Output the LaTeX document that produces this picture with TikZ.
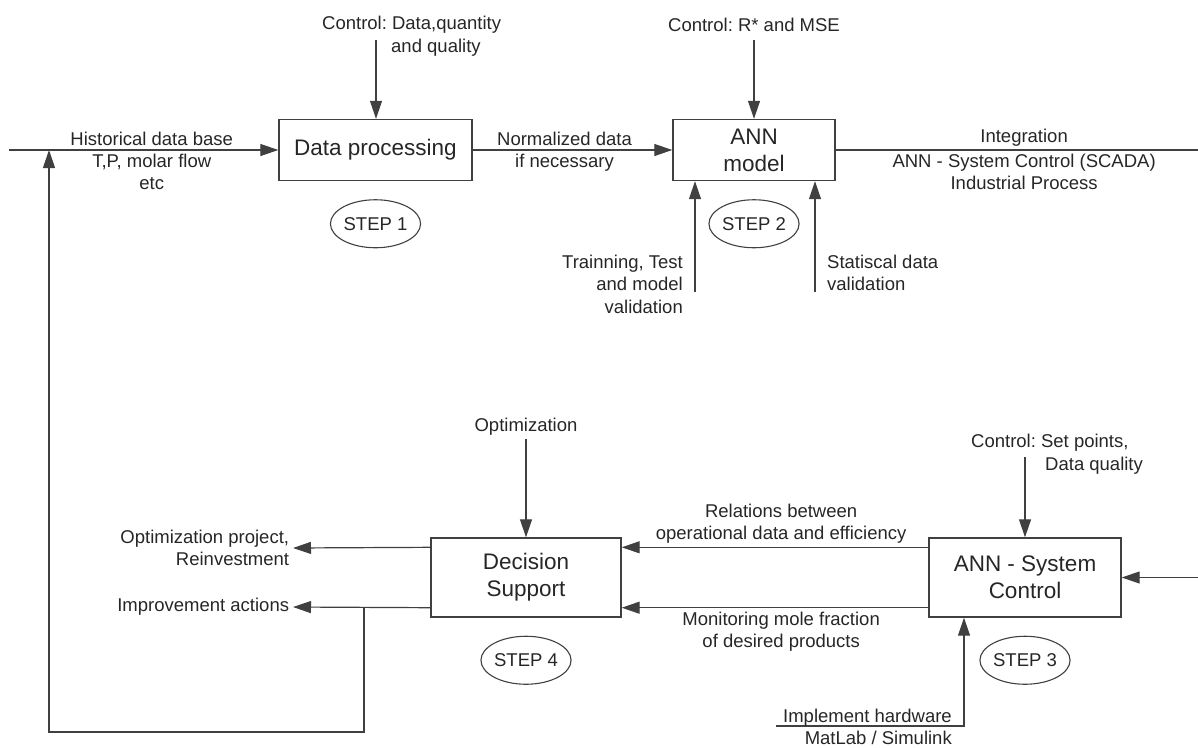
\documentclass[tikz,border=0pt]{standalone}
\usepackage{fontspec}
\setmainfont{Liberation Sans}
\usetikzlibrary{shapes.geometric, arrows.meta, positioning}
\newcommand{\lblfont}{\fontsize{18.5}{22.5}\selectfont}
\newcommand{\boxfont}{\fontsize{22.5}{27}\selectfont}
\frenchspacing

\begin{document}
\begin{tikzpicture}[x=1pt, y=1pt, >={Triangle[length=18pt, width=12pt]}, every node/.style={font=\lblfont, text=black!85}]
    \tikzset{
        block/.style={rectangle, draw=black!75, line width=1.4pt, inner sep=0pt, align=center, font=\boxfont},
        stepmark/.style={ellipse, draw=black!75, line width=1.1pt, minimum width=86pt, minimum height=48pt, inner sep=0pt},
        line/.style={draw=black!75, line width=1.2pt, ->}
    }
    \useasboundingbox (0,0) rectangle (1198,-747);

    \node (DataProc) [block, minimum width=193pt, minimum height=61pt] at (375.5,-150) {Data processing};
    \node (AnnModel) [block, minimum width=162pt, minimum height=61pt] at (754,-150) {ANN\\model};
    \node (Decision) [block, minimum width=190pt, minimum height=79pt] at (526,-577.5) {Decision\\Support};
    \node (AnnCtrl) [block, minimum width=192pt, minimum height=79pt] at (1025,-577.5) {ANN - System\\Control};

    \node (Step1) [stepmark, below=18pt of DataProc] {STEP 1};
    \node (Step2) [stepmark, below=18pt of AnnModel] {STEP 2};
    \node (Step3) [stepmark, below=18pt of AnnCtrl] {STEP 3};
    \node (Step4) [stepmark, below=18pt of Decision] {STEP 4};

    \coordinate (HistIn) at (9,-150);
    \coordinate (ScadaOut) at (1198,-150);
    \coordinate (CtrlDP) at (376,-40);
    \coordinate (CtrlAnn) at (754,-40);
    \coordinate (TrainIn) at (695,-292);
    \coordinate (StatIn) at (815,-292);
    \coordinate (OptIn) at (526,-439);
    \coordinate (CtrlSys) at (1025,-457);
    \coordinate (PlantIn) at (1198,-577.5);
    \coordinate (HwIn) at (776,-726);
    \coordinate (HwCorner) at (964,-726);
    \coordinate (OptOut) at (293,-548);
    \coordinate (ImpOut) at (293,-607);
    \coordinate (FbSplit) at (364,-607);
    \coordinate (FbLow) at (49,-732);
    \coordinate (FbUp) at (49,-150);

    % step 1 and 2
    \path [line] (HistIn) -- node [above, pos=0.53] {Historical data base} node [below, pos=0.53, align=center] {T,P, molar flow\\etc} (DataProc);
    \path [line] (CtrlDP) -- (CtrlDP |- DataProc.north);
    \node [anchor=west, align=left, inner sep=0pt] at (322,-36) {Control: Data,quantity\\\hspace*{69pt}and quality};
    \path [line] (DataProc) -- node [above, pos=0.46] {Normalized data} node [below, pos=0.46] {if necessary} (AnnModel);
    \path [line] (CtrlAnn) -- node [above, pos=0, yshift=4pt] {Control: R* and MSE} (CtrlAnn |- AnnModel.north);
    \path [line] (TrainIn) -- (TrainIn |- AnnModel.south);
    \node [anchor=east, align=right, inner sep=0pt] at (683,-284) {Trainning, Test\\and model\\validation};
    \path [line] (StatIn) -- (StatIn |- AnnModel.south);
    \node [anchor=west, align=left, inner sep=0pt] at (827,-273) {Statiscal data\\validation};
    \path [line, -] (AnnModel) -- node [above, pos=0.52] {Integration} node [below, pos=0.52, align=center] {ANN - System Control (SCADA)\\Industrial Process} (ScadaOut);

    % step 3 and 4
    \path [line] (CtrlSys) -- (AnnCtrl.north);
    \node [anchor=west, align=left, inner sep=0pt] at (971,-454) {Control: Set points,\\\hspace*{74pt}Data quality};
    \path [line] (PlantIn) -- (AnnCtrl.east);
    \path [line] (HwIn) -- (HwCorner) -- (HwCorner |- AnnCtrl.south);
    \node [anchor=east, align=right, inner sep=0pt] at (952,-727) {Implement hardware\\MatLab / Simulink};
    \path [line] ([yshift=-10pt]AnnCtrl.north west) -- node [above, pos=0.48, align=center] {Relations between\\operational data and efficiency} ([yshift=-10pt]Decision.north east);
    \path [line] ([yshift=10pt]AnnCtrl.south west) -- node [below, pos=0.48, align=center] {Monitoring mole fraction\\of desired products} ([yshift=10pt]Decision.south east);
    \path [line] (OptIn) -- node [above, pos=0] {Optimization} (Decision.north);
    \path [line] ([yshift=-10pt]Decision.north west) -- (OptOut) node [left, align=right] {Optimization project,\\Reinvestment};
    \path [line] ([yshift=10pt]Decision.south west) -- (ImpOut) node [left] {Improvement actions};
    \path [line] (FbSplit) |- (FbLow) -- (FbUp);
\end{tikzpicture}
\end{document}
